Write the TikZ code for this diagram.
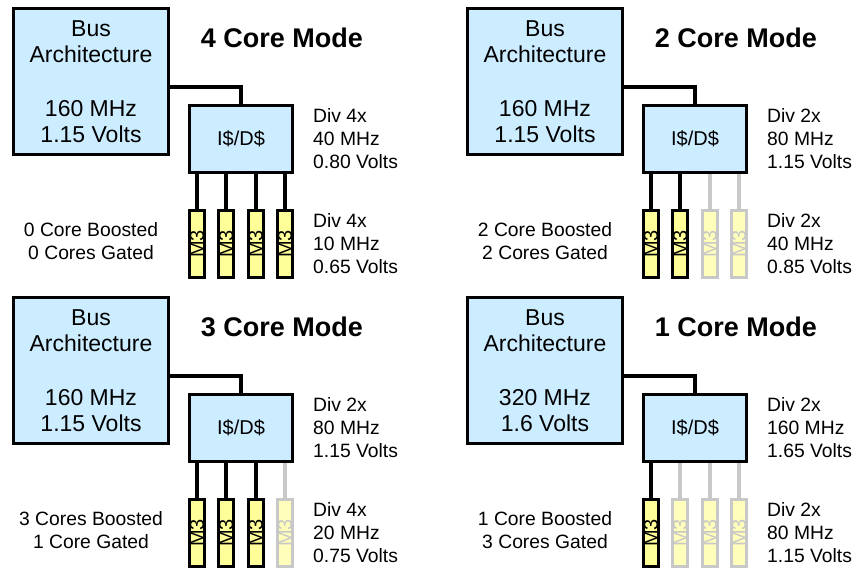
\documentclass[tikz,border=0pt]{standalone}
\usepackage{fontspec}
\setmainfont{Liberation Sans}
\usepackage{xcolor}
\usepackage{tikz}
\definecolor{busblue}{HTML}{CCECFF}
\definecolor{coreyellow}{HTML}{FFFF99}
\definecolor{offyellow}{HTML}{FFFFBB}
\definecolor{offgray}{HTML}{C8C8C8}
% one panel: #1 tag, #2 shift, #3 bus clock, #4 mode, #5 cache clock,
% #6 core clock, #7 boost/gate status, #8 number of running cores
\newcommand{\coremode}[8]{%
\begin{scope}[shift={#2}]
  \node[busbox] (bus#1) at (91,81.5) {Bus\\Architecture\\[27pt]#3};
  \node[modetitle] (mode#1) at (282,38) {#4};
  \node[cachebox] (cache#1) at (241,139) {I\$/D\$};
  \draw[link] ([yshift=-5.5pt]bus#1.east) -| (cache#1.north);
  \node[note, anchor=west] (cclk#1) at (313,139) {#5};
  \node[note, anchor=west] (mclk#1) at (313,244) {#6};
  \node[note, align=center] (stat#1) at (91,241) {#7};
  \foreach \i in {1,...,4} {
    \pgfmathsetmacro\cx{197+29.33*(\i-1)}
    \ifnum\i>#8\relax \tikzset{cur/.style={draw=offgray, fill=offyellow, text=offgray}}%
    \else \tikzset{cur/.style={}}\fi
    \node[core, cur] (core#1\i) at (\cx,244) {M3};
    \draw[link, cur] (cache#1.south -| core#1\i) -- (core#1\i);
  }
\end{scope}}

\begin{document}
\begin{tikzpicture}[
  x=1pt, y=-1pt,
  every node/.style={inner sep=0pt},
  busbox/.style={draw, line width=3pt, fill=busblue, minimum width=155pt,
                 minimum height=146pt, align=center,
                 font=\fontsize{23}{26.5}\selectfont},
  cachebox/.style={draw, line width=3pt, fill=busblue, minimum width=103pt,
                   minimum height=67pt, font=\fontsize{20}{24}\selectfont},
  core/.style={draw, line width=3pt, fill=coreyellow, rotate=90,
               minimum width=67pt, minimum height=15pt,
               font=\fontsize{20}{22}\selectfont},
  link/.style={draw, line width=4pt},
  modetitle/.style={font=\bfseries\fontsize{27}{30}\selectfont},
  note/.style={align=left, font=\fontsize{19.3}{23}\selectfont},
]
\useasboundingbox (0,0) rectangle (857,571);

\coremode{a}{(0,0)}{160 MHz\\1.15 Volts}{4 Core Mode}{Div 4x\\40 MHz\\0.80 Volts}{Div 4x\\10 MHz\\0.65 Volts}{0 Core Boosted\\0 Cores Gated}{4}
\coremode{b}{(454,0)}{160 MHz\\1.15 Volts}{2 Core Mode}{Div 2x\\80 MHz\\1.15 Volts}{Div 2x\\40 MHz\\0.85 Volts}{2 Core Boosted\\2 Cores Gated}{2}
\coremode{c}{(0,289)}{160 MHz\\1.15 Volts}{3 Core Mode}{Div 2x\\80 MHz\\1.15 Volts}{Div 4x\\20 MHz\\0.75 Volts}{3 Cores Boosted\\1 Core Gated}{3}
\coremode{d}{(454,289)}{320 MHz\\1.6 Volts}{1 Core Mode}{Div 2x\\160 MHz\\1.65 Volts}{Div 2x\\80 MHz\\1.15 Volts}{1 Core Boosted\\3 Cores Gated}{1}
\end{tikzpicture}
\end{document}
